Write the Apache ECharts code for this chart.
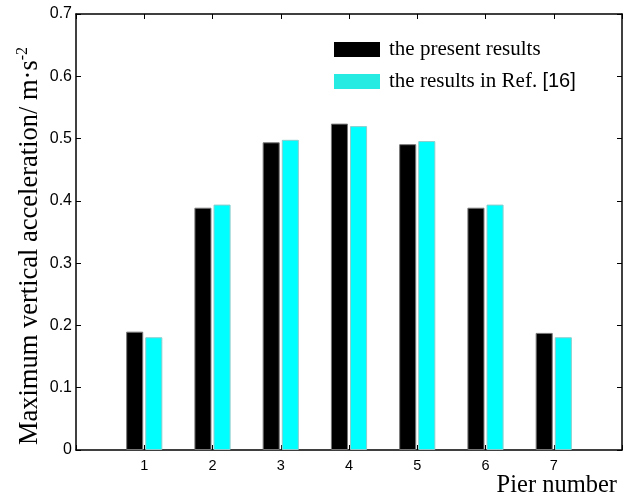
<!DOCTYPE html>
<html>
<head>
<meta charset="utf-8">
<script src="https://cdn.jsdelivr.net/npm/echarts@6/dist/echarts.min.js"></script>
<style>html,body{margin:0;padding:0;background:#fff}#c{width:625px;height:498px}</style>
</head>
<body>
<div id="c"></div>
<script>
var piers = [1, 2, 3, 4, 5, 6, 7];
var presentResults = [0.190, 0.389, 0.494, 0.524, 0.491, 0.389, 0.188];
var refResults = [0.181, 0.394, 0.498, 0.520, 0.496, 0.394, 0.181];
var yTicks = [0, 0.1, 0.2, 0.3, 0.4, 0.5, 0.6, 0.7];
var seriesNames = ['the present results', 'the results in Ref. [16]'];

var chart = echarts.init(document.getElementById('c'), null, {renderer: 'canvas'});
var serif = '"Liberation Serif", "Times New Roman", serif';
var sans = '"Liberation Sans", Arial, sans-serif';

var axisLine = {show: true, onZero: false, lineStyle: {color: '#000', width: 1.5}};
var axisTick = {show: true, inside: true, length: 5, lineStyle: {color: '#000', width: 1}};

var option = {
  animation: false,
  backgroundColor: '#fff',
  grid: {left: 76, right: 3, top: 14, bottom: 48, containLabel: false},
  legend: {
    orient: 'vertical',
    left: 334,
    top: 39,
    padding: 0,
    itemWidth: 46,
    itemHeight: 15,
    itemGap: 11,
    icon: 'rect',
    data: [
      {name: seriesNames[0], itemStyle: {color: '#000', borderWidth: 0}},
      {name: seriesNames[1], itemStyle: {color: '#26ebe3', borderWidth: 0}}
    ],
    formatter: function (n) {
      if (n === seriesNames[1]) return '{s|the results in Ref. }{n|[16]}';
      return '{s|' + n + '}';
    },
    textStyle: {
      padding: [0, 0, 0, 4],
      color: '#000',
      rich: {
        s: {fontFamily: serif, fontSize: 21, color: '#000'},
        n: {fontFamily: sans, fontSize: 20, color: '#000'}
      }
    }
  },
  xAxis: [
    {
      type: 'value', min: 0, max: 8, interval: 1, position: 'bottom',
      axisLine: axisLine, axisTick: axisTick, splitLine: {show: false},
      axisLabel: {
        margin: 8, color: '#000', fontFamily: sans, fontSize: 14.5,
        formatter: function (v) { return piers.indexOf(v) >= 0 ? String(v) : ''; }
      }
    },
    {
      type: 'value', min: 0, max: 8, interval: 1, position: 'top',
      axisLine: axisLine, axisTick: axisTick, splitLine: {show: false},
      axisLabel: {show: false}
    }
  ],
  yAxis: [
    {
      type: 'value', min: 0, max: 0.7, interval: 0.1, position: 'left',
      axisLine: axisLine, axisTick: axisTick, splitLine: {show: false},
      axisLabel: {
        margin: 4, color: '#000', fontFamily: sans, fontSize: 16,
        formatter: function (v) {
          for (var i = 0; i < yTicks.length; i++) {
            if (Math.abs(yTicks[i] - v) < 1e-9) return yTicks[i] === 0 ? '0' : yTicks[i].toFixed(1);
          }
          return '';
        }
      }
    },
    {
      type: 'value', min: 0, max: 0.7, interval: 0.1, position: 'right',
      axisLine: axisLine, axisTick: axisTick, splitLine: {show: false},
      axisLabel: {show: false}
    }
  ],
  series: [
    {
      name: seriesNames[0], type: 'bar', xAxisIndex: 0, yAxisIndex: 0,
      barWidth: '25%', barGap: '12%',
      itemStyle: {color: '#000', borderColor: '#777', borderWidth: 1},
      data: piers.map(function (p, i) { return [p, presentResults[i]]; })
    },
    {
      name: seriesNames[1], type: 'bar', xAxisIndex: 0, yAxisIndex: 0,
      barWidth: '25%', barGap: '12%',
      itemStyle: {color: '#00ffff', borderColor: '#8ccccc', borderWidth: 1},
      data: piers.map(function (p, i) { return [p, refResults[i]]; })
    }
  ],
  graphic: [
    {
      type: 'text',
      x: 30, y: 246,
      rotation: Math.PI / 2,
      style: {
        text: '{a|Maximum vertical acceleration/ m·s}{b|-2}',
        align: 'center', verticalAlign: 'middle',
        fill: '#000',
        rich: {
          a: {fontFamily: serif, fontSize: 26.5, fill: '#000'},
          b: {fontFamily: serif, fontSize: 16, fill: '#000', padding: [0, 0, 15, 0]}
        }
      }
    },
    {
      type: 'text',
      x: 617, y: 486,
      style: {
        text: 'Pier number',
        fontFamily: serif, fontSize: 24.5, fill: '#000',
        align: 'right', verticalAlign: 'middle'
      }
    }
  ]
};
chart.setOption(option);
</script>
</body>
</html>
